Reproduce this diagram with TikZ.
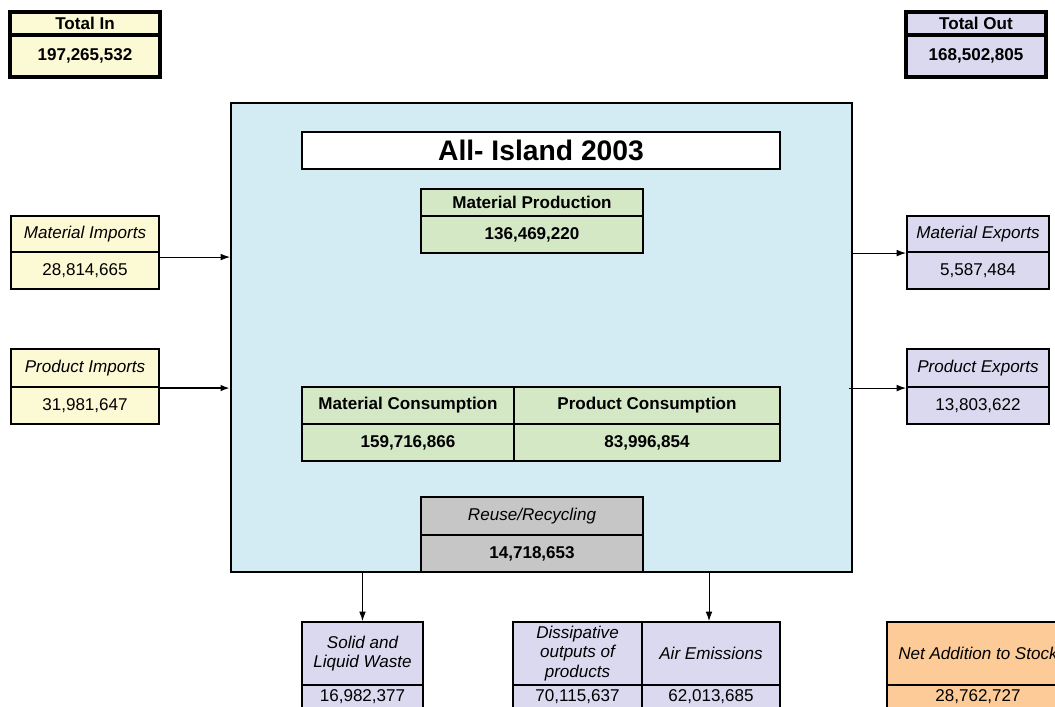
\documentclass[tikz,border=0pt]{standalone}
\usepackage{fontspec}
\setmainfont{Liberation Sans}
\usetikzlibrary{arrows.meta}
\definecolor{cyel}{HTML}{FCF9D5}
\definecolor{clav}{HTML}{DAD9EF}
\definecolor{cblue}{HTML}{D3ECF3}
\definecolor{cgreen}{HTML}{D4E8C6}
\definecolor{cgray}{HTML}{C6C6C6}
\definecolor{corange}{HTML}{FDCB98}
\newcommand\fsz{\fontsize{12.8pt}{14.8pt}\selectfont}
\newcommand\cellnode[7]{\node[#6, minimum width={(#4-#2)*0.75pt}, minimum height={(#5-#3)*0.75pt}] (#1) at ({(#2+#4)/2},{(#3+#5)/2}) {#7};}
\tikzset{
  cell/.style={draw, line width=1.6pt, inner sep=0pt, align=center, font=\fsz},
  tot/.style={cell, line width=2.4pt, font=\fsz\bfseries},
  yel/.style={cell, fill=cyel},
  lav/.style={cell, fill=clav},
  grn/.style={cell, fill=cgreen, font=\fsz\bfseries},
  gry/.style={cell, fill=cgray},
  org/.style={cell, fill=corange},
  ital/.style={font=\fsz\itshape},
  mainst/.style={draw, line width=1.6pt, fill=cblue, inner sep=0pt},
  titlest/.style={draw, line width=1.6pt, fill=white, inner sep=0pt, font=\fontsize{21.2pt}{24pt}\selectfont\bfseries},
  arr/.style={-{Latex[length=7pt,width=5pt]}, line width=0.6pt},
}
\begin{document}
\begin{tikzpicture}[x=0.75pt,y=-0.75pt]
\useasboundingbox (0,0) rectangle (1055,706);
\clip (0,0) rectangle (1055,706);
% totals
\cellnode{tih}{10}{12}{160}{35}{tot,fill=cyel}{Total In}
\cellnode{tiv}{10}{35}{160}{77}{tot,fill=cyel}{197,265,532}
\cellnode{toh}{906}{12}{1046}{35}{tot,fill=clav}{Total Out}
\cellnode{tov}{906}{35}{1046}{77}{tot,fill=clav}{168,502,805}
% main box
\cellnode{main}{231}{103}{852}{572}{mainst}{}
\cellnode{title}{302}{132}{780}{169}{titlest}{All- Island 2003}
\cellnode{mph}{421}{189}{643}{216}{grn}{Material Production}
\cellnode{mpv}{421}{216}{643}{253}{grn}{136,469,220}
\cellnode{mch}{302}{387}{514}{424}{grn}{Material Consumption}
\cellnode{mcv}{302}{424}{514}{461}{grn}{159,716,866}
\cellnode{pch}{514}{387}{780}{424}{grn}{Product Consumption}
\cellnode{pcv}{514}{424}{780}{461}{grn}{83,996,854}
\cellnode{rrh}{421}{497}{643}{535}{gry,ital}{Reuse/Recycling}
\cellnode{rrv}{421}{535}{643}{572}{gry,font=\fsz\bfseries}{14,718,653}
% imports
\cellnode{mih}{11}{216}{159}{252}{yel,ital}{Material Imports}
\cellnode{miv}{11}{252}{159}{289}{yel}{28,814,665}
\cellnode{pih}{11}{349}{159}{387}{yel,ital}{Product Imports}
\cellnode{piv}{11}{387}{159}{424}{yel}{31,981,647}
% exports
\cellnode{meh}{907}{216}{1049}{252}{lav,ital}{Material Exports}
\cellnode{mev}{907}{252}{1049}{289}{lav}{5,587,484}
\cellnode{peh}{907}{349}{1049}{387}{lav,ital}{Product Exports}
\cellnode{pev}{907}{387}{1049}{424}{lav}{13,803,622}
% outputs
\cellnode{swh}{302}{622}{423}{685}{lav,ital}{Solid and\\Liquid Waste}
\cellnode{swv}{302}{685}{423}{708}{lav}{16,982,377}
\cellnode{dph}{513}{622}{642}{685}{lav,ital}{Dissipative\\outputs of\\products}
\cellnode{dpv}{513}{685}{642}{708}{lav}{70,115,637}
\cellnode{aeh}{642}{622}{780}{685}{lav,ital}{Air Emissions}
\cellnode{aev}{642}{685}{780}{708}{lav}{62,013,685}
\cellnode{nah}{887}{622}{1069}{685}{org,ital}{Net Addition to Stock}
\cellnode{nav}{887}{685}{1069}{708}{org}{28,762,727}
% connectors
\draw[arr] ([yshift=-3pt]mih.south east) -- ([yshift=-3pt]main.west |- mih.south east);
\draw[arr, line width=1.5pt] (pih.south east) -- (main.west |- pih.south east);
\draw[arr] (main.east |- meh.south west) -- (meh.south west);
\draw[arr] ([xshift=-3pt]main.east |- peh.south west) -- (peh.south west);
\draw[arr] (main.south -| swh.north) -- (swh.north);
\draw[arr] ([xshift=-1.5pt]main.south -| aeh.north) -- ([xshift=-1.5pt]aeh.north);
\end{tikzpicture}
\end{document}
